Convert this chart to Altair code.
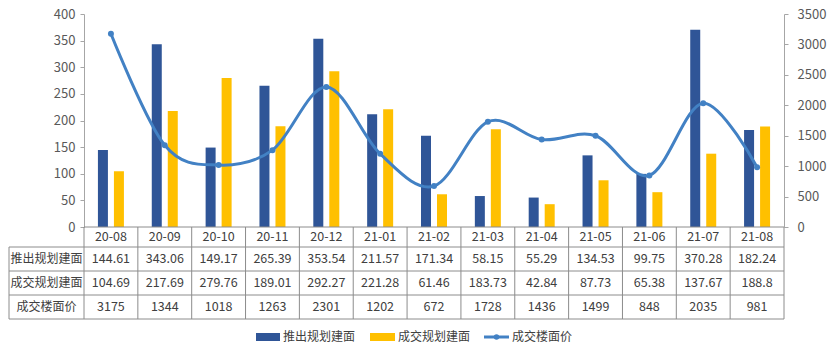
import altair as alt
import pandas as pd

# ---------------- data ----------------
months = ["20-08", "20-09", "20-10", "20-11", "20-12", "21-01", "21-02",
          "21-03", "21-04", "21-05", "21-06", "21-07", "21-08"]
launched = [144.61, 343.06, 149.17, 265.39, 353.54, 211.57, 171.34,
            58.15, 55.29, 134.53, 99.75, 370.28, 182.24]
sold = [104.69, 217.69, 279.76, 189.01, 292.27, 221.28, 61.46,
        183.73, 42.84, 87.73, 65.38, 137.67, 188.8]
price = [3175, 1344, 1018, 1263, 2301, 1202, 672, 1728, 1436, 1499, 848, 2035, 981]
series = ["推出规划建面", "成交规划建面", "成交楼面价"]
left_ticks = [0, 50, 100, 150, 200, 250, 300, 350, 400]
right_ticks = [0, 500, 1000, 1500, 2000, 2500, 3000, 3500]

# ---------------- style / layout ----------------
colors = ["#2F5597", "#FFC000", "#4281C4"]
FONT = "Noto Sans CJK SC"
TEXT = "#404040"
AXIS = "#A6A6A6"
GRID = "#8C8C8C"
PLOT_W, PLOT_H = 700, 213
TABLE_H = 92
N = len(months)
COL = PLOT_W / N                      # px per month column
LABEL_W = 75                          # width of the row-label column (px)
row_edges = [0, 20, 44, 68, 92]       # table row boundaries (px below the plot)
LEG_Y0, LEG_Y1 = 106, 114             # legend swatch band (px below the plot)
legend_px = [(255, 279, 282), (369, 394, 397), (483, 508, 511)]  # swatch x0,x1,text x (page px)
ORIGIN_X = 83

# ---------------- top: bars + line ----------------
xscale = alt.Scale(domain=months, paddingInner=0, paddingOuter=0)

bars_df = pd.DataFrame({
    "month": months * 2,
    "series": [series[0]] * N + [series[1]] * N,
    "value": launched + sold,
})
price_df = pd.DataFrame({"month": months, "price": price})

axis_common = dict(domainColor=AXIS, tickColor=AXIS, tickSize=4, labelColor="#595959",
                   labelFont=FONT, labelFontSize=13, grid=False, title=None, format="d")

bars = alt.Chart(bars_df).mark_bar().encode(
    x=alt.X("month:N", scale=xscale, axis=None, sort=months),
    xOffset=alt.XOffset("series:N", sort=series[:2],
                        scale=alt.Scale(domain=series[:2], paddingInner=0.375, paddingOuter=0.87)),
    y=alt.Y("value:Q", scale=alt.Scale(domain=[0, 400], nice=False),
            axis=alt.Axis(values=left_ticks, orient="left", labelPadding=5, **axis_common)),
    color=alt.Color("series:N", scale=alt.Scale(domain=series[:2], range=colors[:2]), legend=None),
)

right_axis = alt.Axis(values=right_ticks, orient="right", labelPadding=9, **axis_common)
right_scale = alt.Scale(domain=[0, 3500], nice=False)

line = alt.Chart(price_df).mark_line(interpolate="cardinal", color=colors[2], strokeWidth=3).encode(
    x=alt.X("month:N", scale=xscale, axis=None, sort=months),
    y=alt.Y("price:Q", scale=right_scale, axis=right_axis),
)
pts = alt.Chart(price_df).mark_point(filled=True, size=36, color=colors[2], opacity=1).encode(
    x=alt.X("month:N", scale=xscale, axis=None, sort=months),
    y=alt.Y("price:Q", scale=right_scale, axis=right_axis),
)

top = alt.layer(bars, alt.layer(line, pts)).resolve_scale(y="independent").properties(
    width=PLOT_W, height=PLOT_H)

# ---------------- bottom: data table + legend ----------------
bx = alt.Scale(domain=[0, N], nice=False, zero=False)
by = alt.Scale(domain=[0, TABLE_H], nice=False, zero=False, reverse=True)


def fmt(v):
    return f"{v:g}"


row_centers = [(row_edges[i] + row_edges[i + 1]) / 2 for i in range(4)]
cells = []
for i, m in enumerate(months):
    vals = [m, fmt(launched[i]), fmt(sold[i]), fmt(price[i])]
    for r, t in enumerate(vals):
        cells.append({"x": i + 0.5, "y": row_centers[r], "text": t})
cells_df = pd.DataFrame(cells)

label_x0 = -LABEL_W / COL
labels_df = pd.DataFrame({"x": [label_x0 / 2] * 3, "y": row_centers[1:], "text": series})

rules = []
for k in range(N + 1):
    rules.append({"x": k, "x2": k, "y": 0, "y2": row_edges[-1]})
rules.append({"x": label_x0, "x2": label_x0, "y": row_edges[1], "y2": row_edges[-1]})
rules.append({"x": 0, "x2": N, "y": 0, "y2": 0})
for e in row_edges[1:]:
    rules.append({"x": label_x0, "x2": N, "y": e, "y2": e})
rules_df = pd.DataFrame(rules)

X = lambda f: alt.X(f, type="quantitative", scale=bx, axis=None)
Y = lambda f: alt.Y(f, type="quantitative", scale=by, axis=None)

grid = alt.Chart(rules_df).mark_rule(color=GRID, strokeWidth=1).encode(
    x=X("x"), x2="x2", y=Y("y"), y2="y2")
cell_text = alt.Chart(cells_df).mark_text(font=FONT, fontSize=12.5, color=TEXT,
                                          align="center", baseline="middle").encode(
    x=X("x"), y=Y("y"), text="text:N")
label_text = alt.Chart(labels_df).mark_text(font=FONT, fontSize=12, color=TEXT,
                                            align="center", baseline="middle").encode(
    x=X("x"), y=Y("y"), text="text:N")

to_u = lambda px: (px - ORIGIN_X) / COL
leg_layers = []
for i, name in enumerate(series):
    x0, x1, tx = legend_px[i]
    if i < 2:
        sw = pd.DataFrame({"x": [to_u(x0)], "x2": [to_u(x1)], "y": [LEG_Y0], "y2": [LEG_Y1]})
        leg_layers.append(alt.Chart(sw).mark_rect(color=colors[i]).encode(
            x=X("x"), x2="x2", y=Y("y"), y2="y2"))
    else:
        ym = (LEG_Y0 + LEG_Y1) / 2
        sw = pd.DataFrame({"x": [to_u(x0)], "x2": [to_u(x1)], "y": [ym]})
        leg_layers.append(alt.Chart(sw).mark_rule(color=colors[i], strokeWidth=3).encode(
            x=X("x"), x2="x2", y=Y("y")))
        dot = pd.DataFrame({"x": [(to_u(x0) + to_u(x1)) / 2], "y": [ym]})
        leg_layers.append(alt.Chart(dot).mark_point(filled=True, size=30, color=colors[i],
                                                    opacity=1).encode(x=X("x"), y=Y("y")))
    td = pd.DataFrame({"x": [to_u(tx)], "y": [(LEG_Y0 + LEG_Y1) / 2], "text": [name]})
    leg_layers.append(alt.Chart(td).mark_text(font=FONT, fontSize=12, color=TEXT,
                                              align="left", baseline="middle").encode(
        x=X("x"), y=Y("y"), text="text:N"))

bottom = alt.layer(grid, cell_text, label_text, *leg_layers).properties(
    width=PLOT_W, height=TABLE_H)

chart = alt.vconcat(top, bottom, spacing=0, bounds="flush").properties(
    padding={"left": 8, "top": 8, "right": 5, "bottom": 3},
    background="white",
).configure_view(stroke=None)

chart.save("out.html", embed_options={"renderer": "svg", "actions": False})
